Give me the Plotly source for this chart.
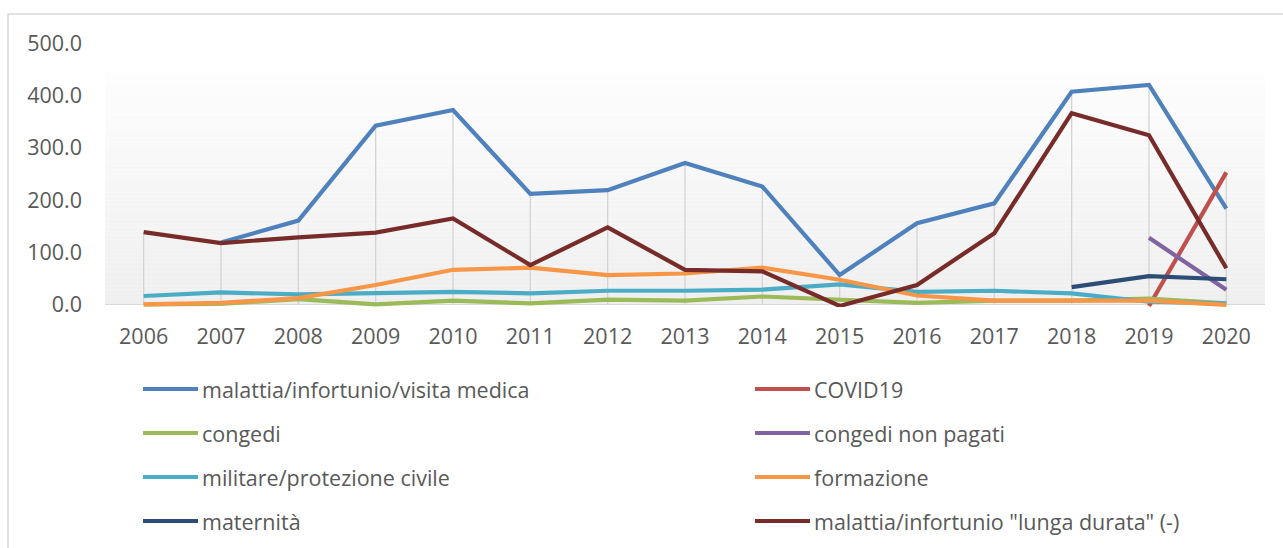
import plotly.graph_objects as go

# Categories (years)
years = [str(y) for y in range(2006, 2021)]

# Series values per year (None = no value for that year)
malattia = [None, 119, 161, 342, 372, 212, 219, 271, 226, 57, 156, 194, 407, 420, 184]
covid19 = [None] * 13 + [-2, 253]
congedi = [1, 2, 11, 1, 8, 3, 10, 8, 16, 9, 4, 8, 8, 12, 3]
congedi_non_pagati = [None] * 13 + [128, 29]
militare = [17, 24, 20, 22, 25, 22, 27, 27, 29, 39, 25, 27, 22, 6, 3]
formazione = [1, 4, 13, 38, 67, 71, 57, 60, 71, 48, 18, 8, 8, 8, 0]
maternita = [None] * 12 + [34, 55, 49]
lunga_durata = [139, 118, 129, 138, 165, 76, 148, 67, 64, -2, 38, 137, 366, 324, 70]

series_names = [
    "malattia/infortunio/visita medica",
    "COVID19",
    "congedi",
    "congedi non pagati",
    "militare/protezione civile",
    "formazione",
    "maternità",
    'malattia/infortunio "lunga durata" (-)',
]
series_values = [malattia, covid19, congedi, congedi_non_pagati,
                 militare, formazione, maternita, lunga_durata]
series_colors = ["#4F81BD", "#C0504D", "#9BBB59", "#8064A2",
                 "#4BACC6", "#F79646", "#2C4D75", "#772C2A"]

FONT = "Open Sans"
TEXT_COLOR = "#595959"
FS = 21.5

W, H = 1283, 548
ML, MR, MT, MB = 105, 18, 43, 241
PW = W - ML - MR
Y_MIN, Y_MAX = -4, 500
PH = H - MT - MB


def px_to_paper(px, py):
    return (px - ML) / PW, (H - MB - py) / PH


fig = go.Figure()

# Plot-area background: vertical gradient, light at top, grey at the bottom
bands = 60
g_top = 443
for i in range(bands):
    y0 = g_top * i / bands
    y1 = g_top * (i + 1) / bands
    t = i / (bands - 1)
    c = int(round(0xEF + (0xFD - 0xEF) * t))
    fig.add_shape(type="rect", xref="paper", yref="y", x0=0, x1=1, y0=y0, y1=y1,
                  fillcolor=f"rgb({c},{c},{c})", line_width=0, layer="below")

# Drop lines: from each year's highest value down to the axis
drop_x, drop_y = [], []
for i, yr in enumerate(years):
    vals = [s[i] for s in series_values if s[i] is not None]
    drop_x += [yr, yr, None]
    drop_y += [0, max(vals), None]
fig.add_trace(go.Scatter(x=drop_x, y=drop_y, mode="lines",
                         line=dict(color="#D4D4D4", width=1.3),
                         hoverinfo="skip", showlegend=False))

for name, vals, col in zip(series_names, series_values, series_colors):
    fig.add_trace(go.Scatter(x=years, y=vals, name=name, mode="lines",
                             line=dict(color=col, width=4.2),
                             connectgaps=False, showlegend=False))

# Legend: two columns, filled row by row
col_x = [143, 755]
row_y = [389, 433, 477, 521]
for k, (name, col) in enumerate(zip(series_names, series_colors)):
    r, c = divmod(k, 2)
    lx0, ly = px_to_paper(col_x[c], row_y[r])
    lx1, _ = px_to_paper(col_x[c] + 55, row_y[r])
    tx, _ = px_to_paper(col_x[c] + 57, row_y[r])
    fig.add_shape(type="line", xref="paper", yref="paper",
                  x0=lx0, x1=lx1, y0=ly, y1=ly,
                  line=dict(color=col, width=4.2))
    fig.add_annotation(xref="paper", yref="paper", x=tx, y=ly, text=name,
                       showarrow=False, xanchor="left", yanchor="middle",
                       font=dict(family=FONT, size=FS, color=TEXT_COLOR))

# Chart border
bx0, by0 = px_to_paper(8, 14)
fig.add_shape(type="rect", xref="paper", yref="paper",
              x0=bx0, y0=by0, x1=1.2, y1=-3,
              line=dict(color="#D9D9D9", width=1.5), fillcolor="rgba(0,0,0,0)")

fig.update_layout(
    width=W, height=H,
    margin=dict(l=ML, r=MR, t=MT, b=MB, pad=0),
    paper_bgcolor="white", plot_bgcolor="rgba(0,0,0,0)",
    font=dict(family=FONT, size=FS, color=TEXT_COLOR),
    showlegend=False,
    xaxis=dict(type="category", range=[-0.5, 14.5], showgrid=False,
               showline=False, zeroline=False, ticks="",
               ticklabelstandoff=14,
               tickfont=dict(family=FONT, size=FS, color=TEXT_COLOR),
               fixedrange=True),
    yaxis=dict(range=[Y_MIN, Y_MAX], tick0=0, dtick=100, tickformat=".1f",
               showgrid=False, showline=False, zeroline=True,
               zerolinecolor="#D9D9D9", zerolinewidth=1.3, ticks="",
               ticklabelstandoff=22,
               tickfont=dict(family=FONT, size=FS, color=TEXT_COLOR),
               fixedrange=True),
)

fig.write_html("out.html")
